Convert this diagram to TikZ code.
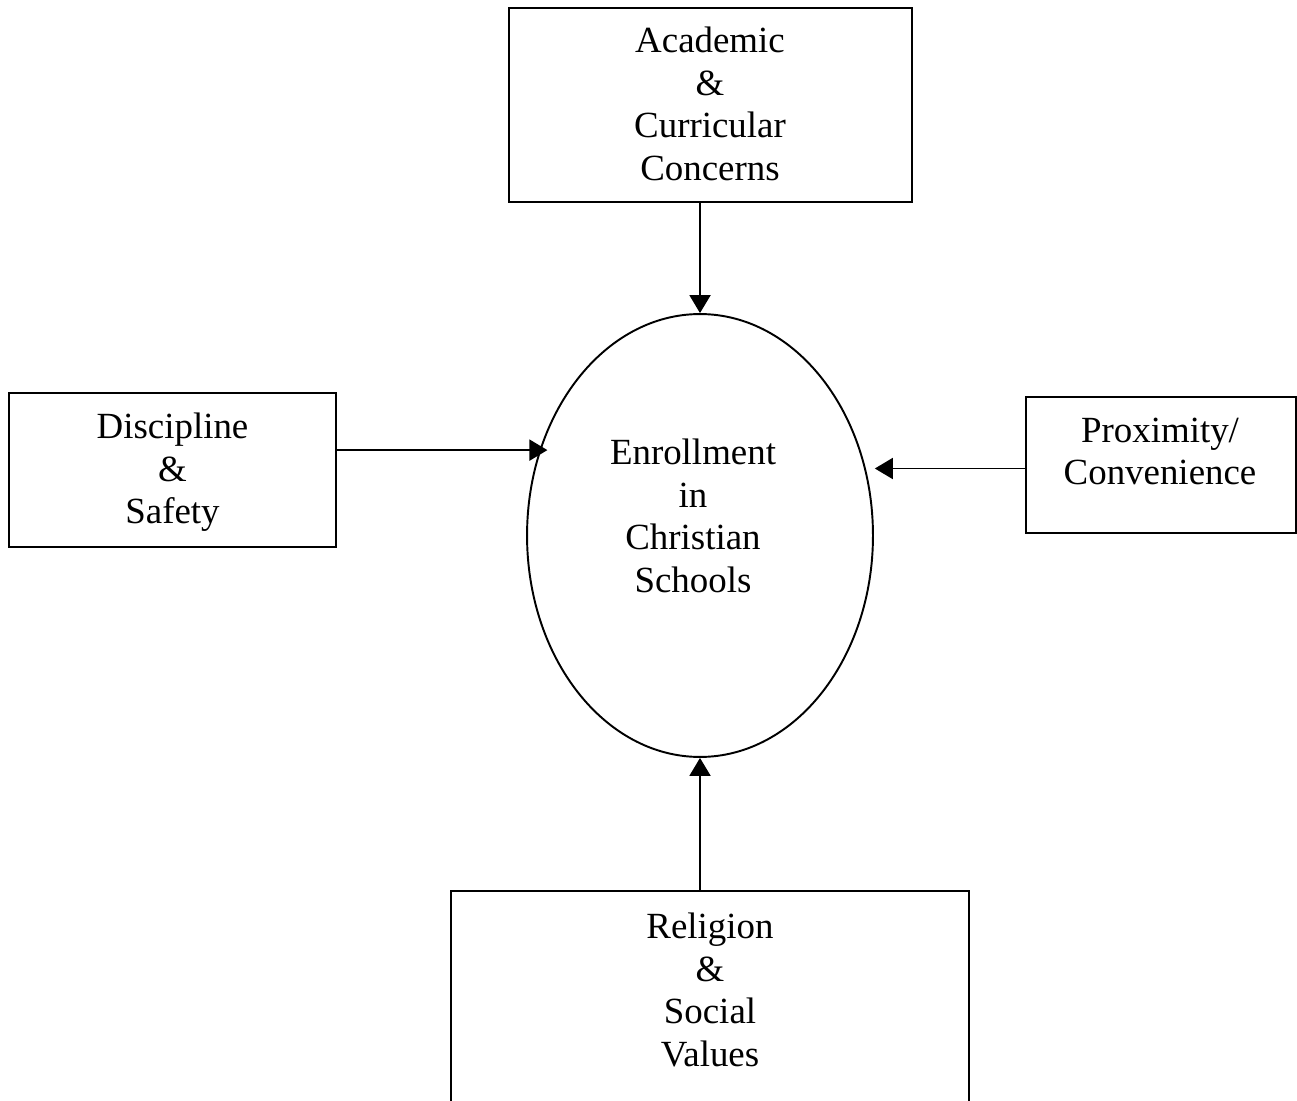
\documentclass[tikz,border=0pt]{standalone}
\usepackage{fontspec}
\setmainfont{Liberation Serif}
\usetikzlibrary{arrows.meta,shapes.geometric,calc}
\tikzset{>={Triangle[length=3.6mm,width=4.2mm]}}
\tikzset{
	box/.style={draw, inner sep=0pt},
	txt/.style={align=center, inner sep=0pt, anchor=north, font=\fontsize{21}{24.2}\selectfont},
}

\begin{document}
\begin{tikzpicture}[x=0.02cm,y=-0.02cm,line width=1.1pt]
		\useasboundingbox (0,0) rectangle (1297,1101);
		\clip (0,0) rectangle (1297,1101);
		% boxes
		\node[box, minimum width=8.06cm, minimum height=3.88cm] (acad) at (710.5,105) {};
		\node[box, minimum width=6.54cm, minimum height=3.08cm] (disc) at (172.5,470) {};
		\node[box, minimum width=5.40cm, minimum height=2.72cm] (prox) at (1161,465) {};
		\node[box, minimum width=10.36cm, minimum height=4.76cm] (relig) at (710,1010) {};
		\node[draw, ellipse, inner sep=0pt, minimum width=6.92cm, minimum height=8.86cm] (ell) at (700,535.5) {};
		% texts
		\node[txt] (acadtxt) at (710,26) {Academic\\\&\\Curricular\\Concerns};
		\node[txt] (disctxt) at (172.5,412) {Discipline\\\&\\Safety};
		\node[txt] (proxtxt) at (1160,417) {Proximity/\\Convenience};
		\node[txt] (relitxt) at (710,912) {Religion\\\&\\Social\\Values};
		\node[txt] (elltxt) at (693,438) {Enrollment\\in\\Christian\\Schools};
		% arrows
		\draw[->] (ell.north |- acad.south) -- (ell.north);
		\draw[->] (ell.south |- relig.north) -- (ell.south);
		\draw[->, shorten >=-0.16cm] (disc.east |- ell.152) -- (ell.152);
		\draw[->, shorten >=0.18cm] (prox.west |- ell.22) -- (ell.22);
	\end{tikzpicture}
\end{document}
